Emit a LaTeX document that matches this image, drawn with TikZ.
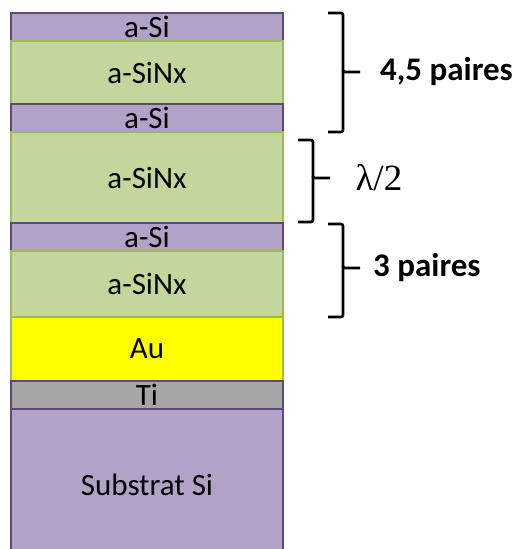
\documentclass[tikz,border=0pt]{standalone}
\usepackage{fontspec}
\setmainfont{Carlito}
\newfontfamily\lamfont{Liberation Serif}
\usetikzlibrary{positioning}

\definecolor{siFill}{HTML}{B3A2C7}
\definecolor{siDraw}{HTML}{5F497A}
\definecolor{nxFill}{HTML}{C3D69B}
\definecolor{nxDraw}{HTML}{9BBB59}
\definecolor{tiFill}{HTML}{A6A6A6}
\definecolor{auFill}{HTML}{FFFF00}

\begin{document}
\begin{tikzpicture}[
    x=1pt, y=-1pt,
    node distance=0pt,
    layer/.style={rectangle, draw, line width=1.5pt, minimum width=272pt,
                  inner sep=0pt, outer sep=0pt, font=\fontsize{31}{33}\selectfont},
    asi/.style={layer, fill=siFill, draw=siDraw, minimum height=28pt},
    nx/.style={layer, fill=nxFill, draw=nxDraw},
    brace/.style={line width=2.6pt, rounded corners=2pt},
    pairs/.style={anchor=west, inner sep=0pt, font=\fontsize{33}{35}\selectfont\bfseries}
]
\useasboundingbox (0,0) rectangle (513,549);

% Multilayer stack
\node[asi] (si1) at (147,27) {a-Si};
\node[nx, minimum height=63pt, below=of si1] (nx1) {a-SiNx};
\node[asi, below=of nx1] (si2) {a-Si};
\node[nx, minimum height=91pt, below=of si2] (nx2) {a-SiNx};
\node[asi, below=of nx2] (si3) {a-Si};
\node[nx, minimum height=66pt, below=of si3] (nx3) {a-SiNx};
\node[layer, fill=auFill, draw=nxDraw, minimum height=64pt, below=of nx3] (au) {Au};
\node[layer, fill=tiFill, draw=siDraw, minimum height=28pt, below=of au] (ti) {Ti};
\node[layer, fill=siFill, draw=siDraw, minimum height=144pt, below=of ti] (sub) {};
\node at ([yshift=-76pt]ti.south) {\fontsize{31}{33}\selectfont Substrat Si};

% Braces and labels
\node[pairs] (top) at (380,72) {4,5 paires};
\node[anchor=west, font=\fontsize{37}{39}\selectfont\lamfont] (cav) at (352,178) {λ/2};
\node[pairs] (bot) at (373,268) {3 paires};

\draw[brace] (328,13) -- (343,13) -- (343,72) -- (360,72);
\draw[brace] (343,70) -- (343,132) -- (328,132);
\draw[brace] (298,140) -- (313,140) -- (313,178) -- (330,178);
\draw[brace] (313,176) -- (313,222) -- (298,222);
\draw[brace] (328,224) -- (343,224) -- (343,268) -- (360,268);
\draw[brace] (343,266) -- (343,317) -- (328,317);

\end{tikzpicture}
\end{document}
